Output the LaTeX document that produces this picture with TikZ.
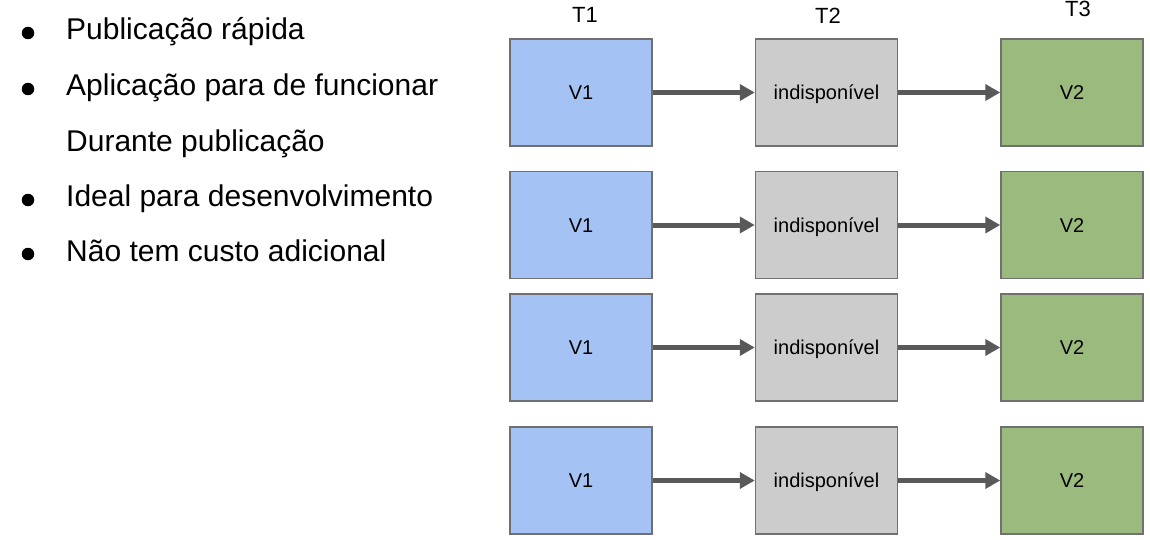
\documentclass[tikz,border=0pt]{standalone}
\usepackage{fontspec}
\setmainfont{Liberation Sans}
\usepackage{xcolor}
\usepackage{tikz}
\usetikzlibrary{arrows.meta, positioning}

\definecolor{oldblue}{HTML}{A4C2F4}
\definecolor{downgray}{HTML}{CCCCCC}
\definecolor{newgreen}{HTML}{9BBB7E}
\definecolor{edgegray}{HTML}{707070}
\definecolor{arrowgray}{HTML}{595959}

\tikzset{
    version/.style={draw=edgegray, line width=1.5pt, minimum width=142pt, minimum height=107pt,
        inner sep=0pt, text height=14.4pt, text depth=0pt, font=\fontsize{20}{24}\selectfont},
    flow/.style={line width=5pt, arrowgray, -{Triangle[length=15pt, width=16pt]}},
    item/.style={anchor=base west, inner sep=0pt, font=\fontsize{30}{36}\selectfont},
    dot/.style={circle, fill=black, minimum size=12.5pt, inner sep=0pt},
    stage/.style={anchor=base, inner sep=0pt, font=\fontsize{22}{26}\selectfont}
}

\begin{document}
\begin{tikzpicture}[x=1pt, y=-1pt]
    \useasboundingbox (0,0) rectangle (1150,540);

    % Bullet list
    \node[dot] (d1) at (28,33) {};
    \node[item] (l1) at (66,40) {Publicação rápida};
    \node[dot] (d2) at (28,89) {};
    \node[item] (l2) at (66,96) {Aplicação para de funcionar};
    \node[item] (l3) at (66,152) {Durante publicação};
    \node[dot] (d4) at (28,200) {};
    \node[item] (l4) at (66,207) {Ideal para desenvolvimento};
    \node[dot] (d5) at (28,254) {};
    \node[item] (l5) at (66,261) {Não tem custo adicional};

    % Time labels
    \node[stage] (t1) at (585,23) {T1};
    \node[stage] (t2) at (828,24) {T2};
    \node[stage] (t3) at (1078,17) {T3};

    % Row 1
    \node[version, fill=oldblue] (a1) at (581,92.5) {V1};
    \node[version, fill=downgray] (b1) at (826.5,92.5) {indisponível};
    \node[version, fill=newgreen] (c1) at (1072,92.5) {V2};
    \draw[flow] (a1) -- (b1);
    \draw[flow] (b1) -- (c1);

    % Row 2
    \node[version, fill=oldblue] (a2) at (581,225) {V1};
    \node[version, fill=downgray] (b2) at (826.5,225) {indisponível};
    \node[version, fill=newgreen] (c2) at (1072,225) {V2};
    \draw[flow] (a2) -- (b2);
    \draw[flow] (b2) -- (c2);

    % Row 3
    \node[version, fill=oldblue] (a3) at (581,347.5) {V1};
    \node[version, fill=downgray] (b3) at (826.5,347.5) {indisponível};
    \node[version, fill=newgreen] (c3) at (1072,347.5) {V2};
    \draw[flow] (a3) -- (b3);
    \draw[flow] (b3) -- (c3);

    % Row 4
    \node[version, fill=oldblue] (a4) at (581,480.5) {V1};
    \node[version, fill=downgray] (b4) at (826.5,480.5) {indisponível};
    \node[version, fill=newgreen] (c4) at (1072,480.5) {V2};
    \draw[flow] (a4) -- (b4);
    \draw[flow] (b4) -- (c4);
\end{tikzpicture}
\end{document}
